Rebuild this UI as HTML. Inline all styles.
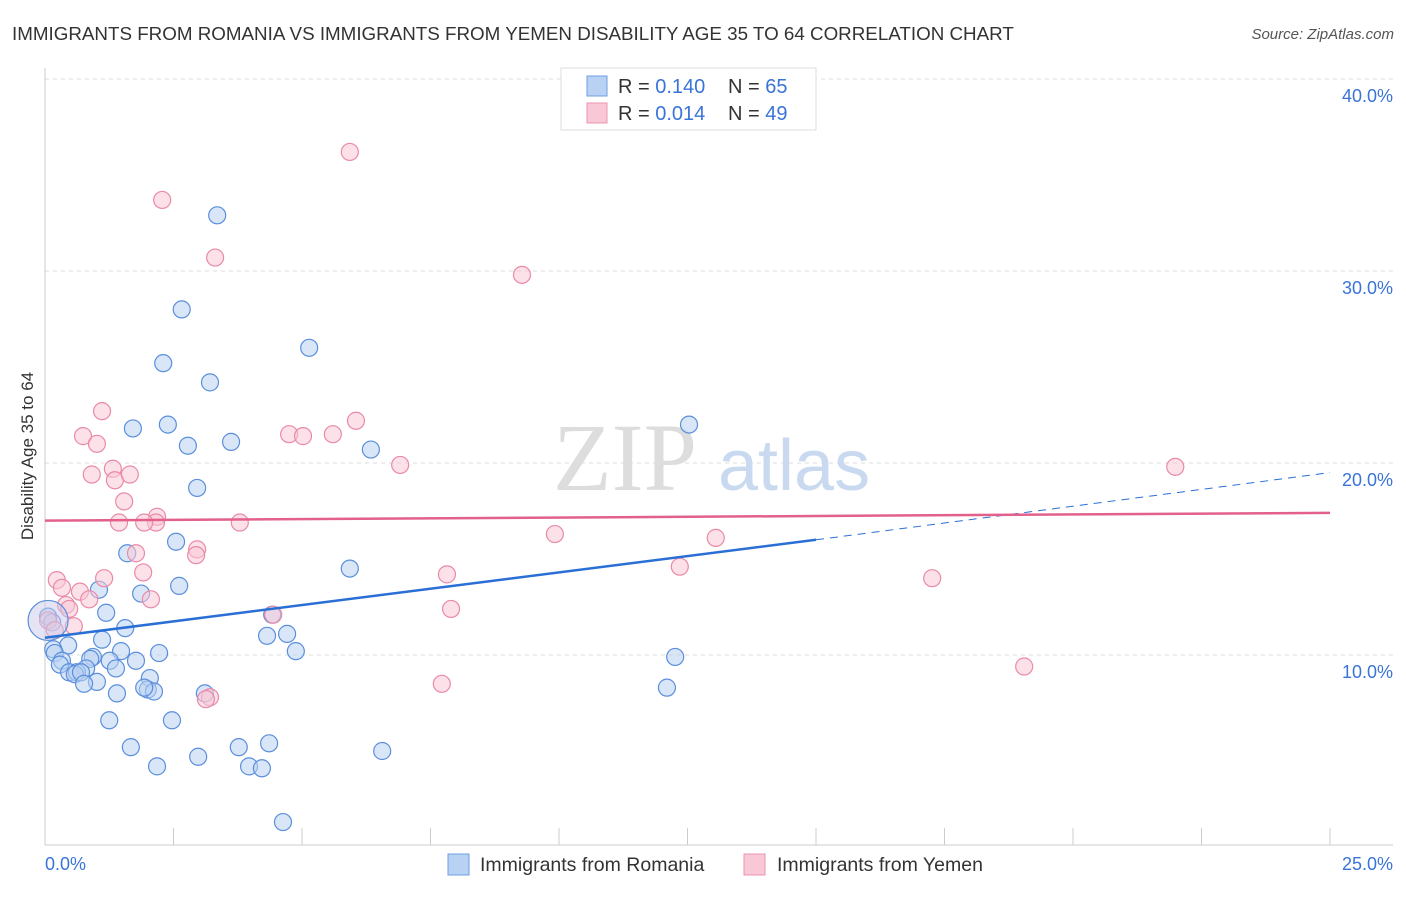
<!DOCTYPE html>
<html><head><meta charset="utf-8"><style>
body{margin:0;background:#fff;font-family:"Liberation Sans",sans-serif;}
</style></head><body>
<svg width="1406" height="892" xmlns="http://www.w3.org/2000/svg" font-family="Liberation Sans, sans-serif">
<text x="12" y="40" font-size="18.8" fill="#333">IMMIGRANTS FROM ROMANIA VS IMMIGRANTS FROM YEMEN DISABILITY AGE 35 TO 64 CORRELATION CHART</text>
<text x="1394" y="39" font-size="15" fill="#555" text-anchor="end" font-style="italic">Source: ZipAtlas.com</text>
<g id="grid"></g>
<text x="553" y="490" font-size="96" fill="#ddd" font-family="Liberation Serif, serif">ZIP</text>
<text x="718" y="490" font-size="72" fill="#c9daf0">atlas</text>
<line x1="45" y1="68" x2="45" y2="845" stroke="#ccc"/>
<line x1="45" y1="845" x2="1393" y2="845" stroke="#ccc"/>
<g id="ticks"></g>
<text transform="translate(33,456) rotate(-90)" font-size="17" fill="#333" text-anchor="middle">Disability Age 35 to 64</text>
<text x="45" y="870" font-size="18" fill="#3a74d8">0.0%</text>
<text x="1393" y="870" font-size="18" fill="#3a74d8" text-anchor="end">25.0%</text>
<g id="pts"></g>
<g id="lines"></g>
<g>
<rect x="561" y="68" width="255" height="62" fill="#fff" stroke="#ddd"/>
<rect x="587" y="76" width="20" height="20" fill="#b9d2f3" stroke="#6d9de0"/>
<rect x="587" y="103" width="20" height="20" fill="#f9c8d6" stroke="#ec93ad"/>
<text x="618" y="93" font-size="20" fill="#333">R = <tspan fill="#3a74d8">0.140</tspan></text>
<text x="728" y="93" font-size="20" fill="#333">N = <tspan fill="#3a74d8">65</tspan></text>
<text x="618" y="120" font-size="20" fill="#333">R = <tspan fill="#3a74d8">0.014</tspan></text>
<text x="728" y="120" font-size="20" fill="#333">N = <tspan fill="#3a74d8">49</tspan></text>
</g>
<g>
<rect x="448" y="854" width="21" height="21" fill="#b9d2f3" stroke="#6d9de0"/>
<text x="480" y="871" font-size="19.5" fill="#333">Immigrants from Romania</text>
<rect x="744" y="854" width="21" height="21" fill="#f9c8d6" stroke="#ec93ad"/>
<text x="777" y="871" font-size="19.5" fill="#333">Immigrants from Yemen</text>
</g>
</svg>
<script>
const yTicks=[10,20,30,40];
const xTicks=[0,2.5,5,7.5,10,12.5,15,17.5,20,22.5,25];
const romX=[3.35,2.66,2.30,5.14,3.21,1.71,2.39,2.78,3.62,6.34,12.53,2.96,2.55,1.60,5.93,2.61,1.05,1.87,1.19,4.42,1.56,4.32,4.71,1.11,0.45,0.16,0.19,4.88,2.22,1.48,0.93,0.88,0.33,1.26,1.77,0.29,0.80,1.38,0.47,0.62,0.58,0.70,2.04,1.01,0.76,2.00,2.12,1.40,1.93,12.26,12.10,3.11,1.25,2.47,1.67,3.77,4.36,6.56,2.18,2.98,3.97,4.22,4.63,0.06,0.14];
const romY=[32.9,28.0,25.2,26.0,24.2,21.8,22.0,20.9,21.1,20.7,22.0,18.7,15.9,15.3,14.5,13.6,13.4,13.2,12.2,12.1,11.4,11.0,11.1,10.8,10.5,10.3,10.1,10.2,10.1,10.2,9.9,9.8,9.7,9.7,9.7,9.5,9.3,9.3,9.1,9.1,9.0,9.1,8.8,8.6,8.5,8.2,8.1,8.0,8.3,9.9,8.3,8.0,6.6,6.6,5.2,5.2,5.4,5.0,4.2,4.7,4.2,4.1,1.3,12.0,11.7];
const yemX=[5.93,2.28,3.31,9.28,1.11,6.05,0.74,1.01,4.75,5.02,5.60,6.91,21.99,0.91,1.32,1.36,1.65,1.54,1.44,2.18,2.16,1.93,3.79,9.92,13.05,1.77,2.96,2.94,1.91,7.82,12.35,17.26,0.23,1.15,0.33,0.68,0.41,0.47,0.86,2.06,4.44,7.90,0.06,0.19,0.56,7.72,19.05,3.21,3.13];
const yemY=[36.2,33.7,30.7,29.8,22.7,22.2,21.4,21.0,21.5,21.4,21.5,19.9,19.8,19.4,19.7,19.1,19.4,18.0,16.9,17.2,16.9,16.9,16.9,16.3,16.1,15.3,15.5,15.2,14.3,14.2,14.6,14.0,13.9,14.0,13.5,13.3,12.6,12.4,12.9,12.9,12.1,12.4,11.8,11.3,11.5,8.5,9.4,7.8,7.7];
const romTrend=[0,10.9,15,16.0,25,19.5];
const yemTrend=[0,17.0,25,17.4];
const X=v=>45+v*51.4, Y=v=>847-v*19.2;
const NS="http://www.w3.org/2000/svg";
function mk(t,a,p){const e=document.createElementNS(NS,t);for(const k in a)e.setAttribute(k,a[k]);p.appendChild(e);return e;}
const gridG=document.getElementById('grid');
yTicks.forEach(v=>{
 const l=mk('line',{x1:45,x2:1393,y1:Y(v),y2:Y(v),stroke:'#ddd','stroke-dasharray':'4,4'},gridG);
 
 
 const t=mk('text',{x:1393,y:Y(v)+23,'font-size':18,fill:'#3a74d8','text-anchor':'end'},gridG);
 t.textContent=v.toFixed(1)+'%';
 
 
});
const tickG=document.getElementById('ticks');
xTicks.forEach(v=>{
 const l=mk('line',{x1:X(v),x2:X(v),y1:828,y2:845,stroke:'#ccc'},tickG);
 
 
});
const ptsG=document.getElementById('pts');
function dots(xs,ys,fill,stroke,name){
 xs.forEach((x,i)=>{
  const c=mk('circle',{cx:X(x),cy:Y(ys[i]),r:8.5,fill:fill,'fill-opacity':0.55,stroke:stroke,'stroke-width':1.2},ptsG);
  
  
 });
}
dots(romX,romY,'#b9d2f3','#5b8fdc','romania-point');
dots(yemX,yemY,'#f9c8d6','#e98aa8','yemen-point');
const bigC=mk('circle',{cx:X(0.06),cy:Y(11.8),r:20,fill:'#c9c9ea','fill-opacity':0.5,stroke:'#5b8fdc','stroke-width':1.2},ptsG);


const lnG=document.getElementById('lines');
const b1=mk('line',{x1:X(romTrend[0]),y1:Y(romTrend[1]),x2:X(romTrend[2]),y2:Y(romTrend[3]),stroke:'#2a6fd6','stroke-width':2.5},lnG);


const b2=mk('line',{x1:X(romTrend[2]),y1:Y(romTrend[3]),x2:X(romTrend[4]),y2:Y(romTrend[5]),stroke:'#2a6fd6','stroke-width':1,'stroke-dasharray':'8,6'},lnG);


const p1=mk('line',{x1:X(yemTrend[0]),y1:Y(yemTrend[1]),x2:X(yemTrend[2]),y2:Y(yemTrend[3]),stroke:'#e2608a','stroke-width':2.5},lnG);


</script>
</body></html>
